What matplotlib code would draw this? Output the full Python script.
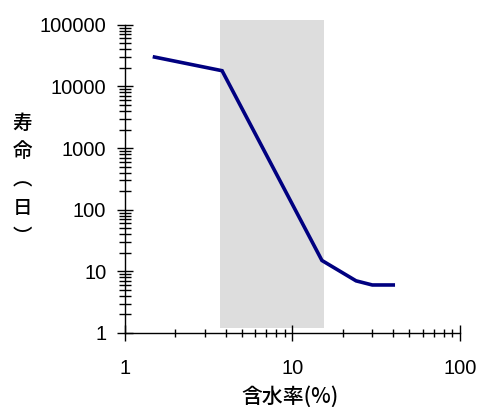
import matplotlib
matplotlib.use("Agg")
import matplotlib.pyplot as plt
from matplotlib.patches import Rectangle
from matplotlib.ticker import LogLocator, FixedLocator, NullFormatter

plt.rcParams['font.family'] = ['Liberation Sans', 'Noto Sans CJK JP', 'DejaVu Sans']

# water content (%) vs. service life (days)
water = [1.5, 3.8, 15, 24, 30, 40]
life = [30000, 18000, 15, 7, 6, 6]

x_ticks = [1, 10, 100]
x_ticklabels = ["1", "10", "100"]
y_ticks = [1, 10, 100, 1000, 10000, 100000]
y_ticklabels = ["1", "10", "100", "1000", "10000", "100000"]

# shaded band
band_x = (3.7, 15.5)
band_y = (1.2, 118000)

cjk = ['Noto Sans CJK JP', 'DejaVu Sans']

fig = plt.figure(figsize=(4.79, 4.07), dpi=100)
ax = fig.add_axes([0.261, 0.182, 0.699, 0.757])

ax.add_patch(Rectangle((band_x[0], band_y[0]), band_x[1] - band_x[0],
                       band_y[1] - band_y[0], facecolor="#dddddd",
                       edgecolor="none", clip_on=False, zorder=0))
ax.plot(water, life, color="#000080", linewidth=2.6, zorder=3,
        solid_joinstyle="miter")

ax.set_xscale("log")
ax.set_yscale("log")
ax.set_xlim(1, 100)
ax.set_ylim(1, 100000)

for s in ["top", "right"]:
    ax.spines[s].set_visible(False)
for s in ["left", "bottom"]:
    ax.spines[s].set_linewidth(1.0)

ax.xaxis.set_major_locator(FixedLocator(x_ticks))
ax.set_xticklabels(x_ticklabels)
ax.yaxis.set_major_locator(FixedLocator(y_ticks))
ax.set_yticklabels(y_ticklabels)
ax.xaxis.set_minor_locator(LogLocator(base=10, subs=range(2, 10)))
ax.yaxis.set_minor_locator(LogLocator(base=10, subs=range(2, 10)))
ax.xaxis.set_minor_formatter(NullFormatter())
ax.yaxis.set_minor_formatter(NullFormatter())

ax.tick_params(axis="x", which="major", direction="inout", length=11,
               width=1, labelsize=14.5, pad=13)
ax.tick_params(axis="x", which="minor", direction="inout", length=6, width=1)
ax.tick_params(axis="y", which="major", direction="inout", length=11,
               width=1, labelsize=14.5, pad=8)
ax.tick_params(axis="y", which="minor", direction="inout", length=8, width=1)

fig.text(0.605, 1 - 397 / 407, "含水率(%)", fontsize=15, ha="center",
         va="center", family=cjk, weight="medium")

# vertical y label, one character per line
for i, ch in enumerate(["寿", "命", "︵", "日", "︶"]):
    fig.text(22 / 479, 1 - (123 + 28.5 * i) / 407, ch, fontsize=14,
             ha="center", va="center", family=cjk, weight="medium")

fig.savefig("out.png", dpi=100)
